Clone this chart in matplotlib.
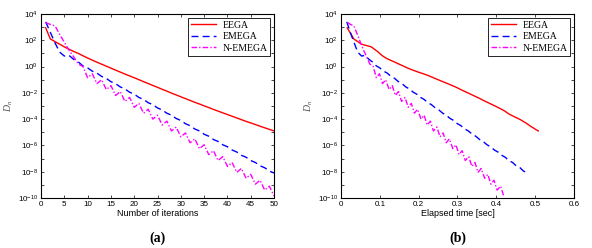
import numpy as np
import matplotlib
matplotlib.use("Agg")
import matplotlib.pyplot as plt
from matplotlib.ticker import FixedLocator, FuncFormatter, NullFormatter

plt.rcParams['font.family'] = ['Liberation Sans', 'DejaVu Sans']
plt.rcParams['mathtext.fontset'] = 'custom'
plt.rcParams['mathtext.rm'] = 'Liberation Sans'
plt.rcParams['mathtext.it'] = 'Liberation Serif:italic'

# log10 of D_n per iteration
iters = list(range(1, 51))
eega_log = [2.95, 2.1, 1.9, 1.7, 1.5, 1.32, 1.15, 1.0, 0.82, 0.65,
            0.49, 0.33, 0.18, 0.03, -0.12, -0.27, -0.42, -0.57, -0.71, -0.85,
            -1.0, -1.15, -1.29, -1.44, -1.58, -1.73, -1.87, -2.02, -2.16, -2.3,
            -2.44, -2.58, -2.72, -2.85, -2.99, -3.12, -3.26, -3.39, -3.52, -3.65,
            -3.78, -3.91, -4.04, -4.17, -4.29, -4.41, -4.54, -4.66, -4.78, -4.9]
emega_log = [3.4, 2.6, 1.8, 1.1, 0.8, 0.85, 0.55, 0.35, 0.05, -0.1,
             -0.35, -0.5, -0.75, -0.9, -1.15, -1.3, -1.55, -1.7, -1.95, -2.1,
             -2.35, -2.5, -2.75, -2.9, -3.15, -3.3, -3.55, -3.7, -3.95, -4.1,
             -4.35, -4.5, -4.75, -4.9, -5.15, -5.3, -5.55, -5.7, -5.95, -6.1,
             -6.35, -6.5, -6.75, -6.9, -7.15, -7.3, -7.55, -7.7, -7.95, -8.1]
nemega_log = [3.35, 3.2, 3.1, 2.45, 1.85, 1.25, 0.75, 0.2, 0.0, -0.85,
              -0.55, -1.3, -1.0, -1.75, -1.45, -2.2, -1.9, -2.65, -2.35, -3.1,
              -2.8, -3.55, -3.25, -4.0, -3.7, -4.45, -4.15, -4.9, -4.6, -5.35,
              -5.05, -5.8, -5.5, -6.25, -5.95, -6.7, -6.4, -7.15, -6.85, -7.6,
              -7.3, -8.05, -7.75, -8.5, -8.2, -8.95, -8.65, -9.4, -9.1, -9.85]

# elapsed time [sec] per iteration
eega_t = [0.016, 0.033, 0.043, 0.053, 0.078, 0.086, 0.094, 0.0995, 0.1066, 0.1154,
          0.127, 0.139, 0.150, 0.161, 0.172, 0.185, 0.199, 0.214, 0.227, 0.238,
          0.250, 0.262, 0.274, 0.286, 0.297, 0.307, 0.317, 0.328, 0.338, 0.348,
          0.358, 0.367, 0.377, 0.386, 0.396, 0.405, 0.414, 0.422, 0.428, 0.435,
          0.444, 0.453, 0.462, 0.469, 0.476, 0.482, 0.488, 0.495, 0.501, 0.508]
emega_t = [0.015, 0.024, 0.034, 0.043, 0.053, 0.062, 0.072, 0.081, 0.091, 0.100,
           0.110, 0.119, 0.129, 0.138, 0.148, 0.157, 0.167, 0.176, 0.186, 0.195,
           0.205, 0.214, 0.224, 0.233, 0.243, 0.252, 0.262, 0.271, 0.281, 0.290,
           0.300, 0.309, 0.319, 0.328, 0.338, 0.347, 0.357, 0.366, 0.376, 0.385,
           0.395, 0.404, 0.414, 0.423, 0.432, 0.442, 0.451, 0.461, 0.470, 0.480]
nemega_t = [0.017, 0.025, 0.033, 0.042, 0.050, 0.058, 0.066, 0.074, 0.083, 0.091,
            0.099, 0.107, 0.115, 0.124, 0.132, 0.140, 0.148, 0.156, 0.165, 0.173,
            0.181, 0.189, 0.197, 0.206, 0.214, 0.222, 0.230, 0.238, 0.247, 0.255,
            0.263, 0.271, 0.279, 0.288, 0.296, 0.304, 0.312, 0.320, 0.329, 0.337,
            0.345, 0.353, 0.361, 0.370, 0.378, 0.386, 0.394, 0.402, 0.411, 0.419]

labels = ["EEGA", "EMEGA", "N-EMEGA"]
colors = ["#ff0000", "#0000ff", "#ff00ff"]
styles = ["-", (0, (5, 3)), (0, (4, 1.5, 1, 1.5))]

fig = plt.figure(figsize=(5.92, 2.48), dpi=100)
ax_a = fig.add_axes([0.0693, 0.2016, 0.3936, 0.742])
ax_b = fig.add_axes([0.576, 0.2016, 0.3936, 0.742])


def ytick_fmt(v, pos):
    e = int(round(np.log10(v)))
    return r'$10^{%d}$' % e


def style_axes(ax, xlabel):
    ax.set_yscale('log')
    ax.set_ylim(1e-10, 1e4)
    ax.yaxis.set_major_locator(FixedLocator([10.0 ** e for e in range(-10, 5, 2)]))
    ax.yaxis.set_minor_locator(FixedLocator([10.0 ** e for e in range(-9, 4, 2)]))
    ax.yaxis.set_major_formatter(FuncFormatter(ytick_fmt))
    ax.yaxis.set_minor_formatter(NullFormatter())
    ax.tick_params(which='both', direction='in', top=True, right=True,
                   labelsize=5.8, width=0.5, length=2.5, pad=2)
    ax.set_xlabel(xlabel, fontsize=6.5, labelpad=1)
    ax.set_ylabel(r'$D_n$', fontsize=7, color='#555555', labelpad=2)
    for s in ax.spines.values():
        s.set_linewidth(0.8)
    leg = ax.legend(loc='upper right', fancybox=False, framealpha=1,
                    edgecolor='black', handlelength=2.6, borderpad=0.3,
                    labelspacing=0.25, handletextpad=0.6, borderaxespad=0.4,
                    prop={'family': 'Liberation Serif', 'size': 7})
    leg.get_frame().set_linewidth(0.6)


xa = [iters, iters, iters]
xb = [eega_t, emega_t, nemega_t]
ys = [eega_log, emega_log, nemega_log]
for i in range(3):
    ax_a.plot(xa[i], 10.0 ** np.array(ys[i]), color=colors[i], linestyle=styles[i],
              linewidth=1.0, label=labels[i])
    ax_b.plot(xb[i], 10.0 ** np.array(ys[i]), color=colors[i], linestyle=styles[i],
              linewidth=1.0, label=labels[i])

ax_a.set_xlim(0, 50)
ax_a.set_xticks(range(0, 51, 5))
ax_b.set_xlim(0, 0.6)
ax_b.set_xticks([0, 0.1, 0.2, 0.3, 0.4, 0.5, 0.6])
ax_b.set_xticklabels(['0', '0.1', '0.2', '0.3', '0.4', '0.5', '0.6'])
style_axes(ax_a, 'Number of iterations')
style_axes(ax_b, 'Elapsed time [sec]')

fig.text(0.2661, 0.04, '(a)', ha='center', va='center', fontsize=10,
         fontweight='bold', family='Liberation Serif')
fig.text(0.7728, 0.04, '(b)', ha='center', va='center', fontsize=10,
         fontweight='bold', family='Liberation Serif')

fig.savefig('out.png', dpi=100)
